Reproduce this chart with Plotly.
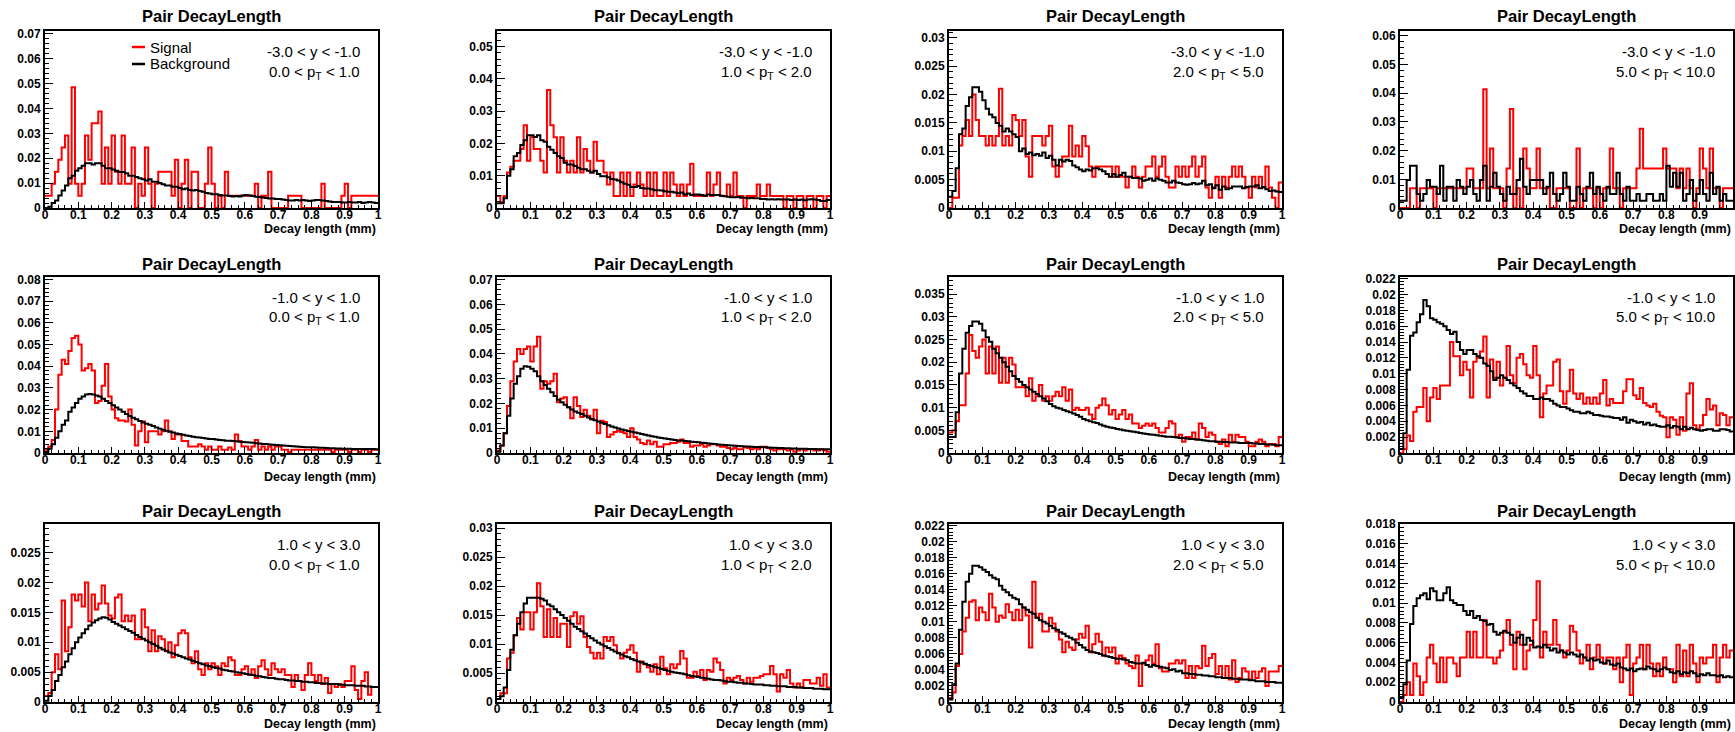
import plotly.graph_objects as go

W, H = 1735, 732

# ---------------- data ----------------
bin_edges = [i / 100 for i in range(101)]

rap_labels = ["-3.0 &lt; y &lt; -1.0", "-1.0 &lt; y &lt; 1.0", "1.0 &lt; y &lt; 3.0"]
pt_labels = ["0.0 &lt; p<sub>T</sub> &lt; 1.0", "1.0 &lt; p<sub>T</sub> &lt; 2.0",
             "2.0 &lt; p<sub>T</sub> &lt; 5.0", "5.0 &lt; p<sub>T</sub> &lt; 10.0"]
panel_title = "Pair DecayLength"
x_title = "Decay length (mm)"
legend_names = ["Signal", "Background"]

y_top = [0.0711, 0.0548, 0.0312, 0.0617,
         0.0811, 0.0711, 0.0388, 0.0222,
         0.0298, 0.0307, 0.0222, 0.0180]
y_major = [0.01, 0.01, 0.005, 0.01,
           0.01, 0.01, 0.005, 0.002,
           0.005, 0.005, 0.002, 0.002]

sig_1 = [0.0049,0.0049,0.0097,0.0146,0.0194,0.0243,0.0291,0.0097,0.0485,0.0097,
         0.0049,0.0097,0.0291,0.0194,0.034,0.034,0.0388,0.0097,0.0243,0.0097,
         0.0291,0.0146,0.0097,0.0291,0.0097,0.0097,0.0243,0.0,0.0097,0.0049,
         0.0243,0.0097,0.0,0.0097,0.0146,0.0146,0.0146,0.0146,0.0049,0.0194,
         0.0,0.0097,0.0194,0.0,0.0146,0.0146,0.0,0.0,0.0097,0.0243,
         0.0097,0.0,0.0049,0.0,0.0146,0.0049,0.0049,0.0049,0.0049,0.0049,
         0.0049,0.0049,0.0049,0.0097,0.0,0.0049,0.0049,0.0146,0.0,0.0,
         0.0,0.0,0.0,0.0049,0.0049,0.0049,0.0049,0.0,0.0,0.0,
         0.0,0.0,0.0,0.0097,0.0,0.0,0.0,0.0,0.0,0.0049,
         0.0097,0.0,0.0049,0.0049,0.0049,0.0049,0.0049,0.0049,0.0049,0.0049]
bkg_1 = [0.0,0.0005,0.002,0.003,0.005,0.007,0.009,0.012,0.013,0.015,
         0.016,0.017,0.018,0.018,0.0175,0.018,0.018,0.017,0.016,0.016,
         0.0155,0.015,0.0145,0.0145,0.014,0.013,0.013,0.0125,0.012,0.0115,
         0.011,0.0115,0.0105,0.0105,0.01,0.0095,0.009,0.009,0.0085,0.0085,
         0.008,0.0075,0.0078,0.0072,0.007,0.0072,0.0068,0.0065,0.006,0.0058,
         0.0055,0.0055,0.0052,0.005,0.005,0.0048,0.0046,0.0048,0.0046,0.005,
         0.0052,0.005,0.0048,0.0045,0.0044,0.0042,0.004,0.0038,0.0038,0.0036,
         0.0036,0.0034,0.0032,0.003,0.003,0.0032,0.003,0.0032,0.003,0.0028,
         0.003,0.0032,0.0032,0.003,0.0028,0.0026,0.0024,0.0024,0.0024,0.0022,
         0.0022,0.0024,0.0022,0.0022,0.0024,0.002,0.0022,0.0024,0.0022,0.002]

sig_2 = [0.0037,0.0018,0.0037,0.011,0.0128,0.0146,0.0146,0.0183,0.0256,0.0146,
         0.0219,0.0183,0.0183,0.0146,0.011,0.0365,0.0256,0.0219,0.011,0.0219,
         0.0146,0.011,0.0146,0.011,0.0219,0.011,0.0183,0.0146,0.011,0.0205,
         0.0146,0.0146,0.011,0.0073,0.011,0.0037,0.0037,0.011,0.0037,0.011,
         0.0037,0.0073,0.011,0.0073,0.0037,0.011,0.0037,0.011,0.0037,0.0037,
         0.011,0.0037,0.011,0.0073,0.0037,0.0073,0.0037,0.0073,0.0137,0.0037,
         0.0037,0.0037,0.0037,0.011,0.0037,0.0073,0.011,0.0037,0.0037,0.0073,
         0.0037,0.011,0.0037,0.0037,0.0,0.0037,0.0037,0.0037,0.0073,0.0037,
         0.0037,0.0073,0.0037,0.0037,0.0037,0.0037,0.0,0.0037,0.0037,0.0,
         0.0037,0.0037,0.0,0.0037,0.0037,0.0,0.0037,0.0037,0.0,0.0037]
bkg_2 = [0.0015,0.0015,0.003,0.01,0.012,0.016,0.017,0.0195,0.021,0.0225,
         0.0225,0.022,0.0225,0.021,0.0205,0.019,0.018,0.017,0.016,0.0155,
         0.014,0.0135,0.0135,0.013,0.0125,0.012,0.012,0.0115,0.011,0.0115,
         0.0105,0.0098,0.0098,0.0095,0.009,0.0088,0.0085,0.008,0.0075,0.0072,
         0.0065,0.0065,0.0068,0.0062,0.006,0.006,0.0058,0.0055,0.0055,0.0054,
         0.0052,0.005,0.005,0.0048,0.0046,0.0048,0.0042,0.0045,0.004,0.0042,
         0.0042,0.004,0.0038,0.0042,0.004,0.004,0.004,0.0038,0.0036,0.0035,
         0.0033,0.0033,0.0034,0.0032,0.0032,0.003,0.0031,0.003,0.003,0.0028,
         0.0028,0.0026,0.0027,0.0026,0.0027,0.0026,0.0026,0.0026,0.0025,0.0026,
         0.0025,0.0026,0.0024,0.0026,0.0027,0.0026,0.0025,0.0022,0.0022,0.0025]

sig_3 = [0.0,0.0018,0.0018,0.011,0.0127,0.0155,0.0127,0.02,0.0155,0.0127,
         0.0127,0.011,0.0127,0.011,0.0127,0.021,0.011,0.0127,0.011,0.0164,
         0.0155,0.0127,0.0155,0.0091,0.0055,0.0127,0.0127,0.0127,0.011,0.0127,
         0.0145,0.0073,0.0055,0.0073,0.0091,0.0091,0.0145,0.0091,0.011,0.0091,
         0.0127,0.0109,0.0073,0.0055,0.0073,0.0073,0.0073,0.0073,0.0073,0.0055,
         0.0073,0.0055,0.0055,0.0036,0.0055,0.0073,0.0055,0.0036,0.0055,0.0073,
         0.0073,0.0091,0.0055,0.0073,0.0091,0.0055,0.0036,0.0036,0.0073,0.0055,
         0.0073,0.0055,0.0073,0.0091,0.0055,0.0073,0.0091,0.0036,0.0018,0.0036,
         0.0055,0.0018,0.0055,0.0036,0.0055,0.0073,0.0055,0.0073,0.0055,0.0036,
         0.0018,0.0055,0.0036,0.0055,0.0036,0.0073,0.0036,0.0018,0.0,0.0045]
bkg_3 = [0.002,0.003,0.007,0.013,0.014,0.018,0.0195,0.0213,0.0213,0.0205,
         0.019,0.0175,0.0165,0.016,0.015,0.0145,0.0135,0.014,0.0135,0.013,
         0.0125,0.01,0.0105,0.0095,0.0098,0.0093,0.0095,0.0092,0.0098,0.0088,
         0.0092,0.0085,0.0075,0.0085,0.0082,0.0085,0.0083,0.0075,0.0072,0.0068,
         0.0065,0.0068,0.0066,0.007,0.007,0.0068,0.0065,0.006,0.0055,0.006,
         0.0055,0.0058,0.0062,0.0055,0.0055,0.0053,0.0053,0.0052,0.0048,0.005,
         0.0052,0.0048,0.0052,0.005,0.0048,0.0045,0.0045,0.0048,0.0045,0.0044,
         0.0042,0.0041,0.0042,0.0044,0.0042,0.0043,0.0048,0.004,0.0042,0.0035,
         0.004,0.0032,0.0038,0.0033,0.0035,0.0038,0.0038,0.0038,0.0035,0.0037,
         0.0038,0.0038,0.004,0.0035,0.0037,0.0033,0.003,0.0031,0.0029,0.0028]

sig_4 = [0.0,0.0,0.0,0.0069,0.0069,0.0,0.0069,0.0069,0.0069,0.0069,
         0.0,0.0069,0.0069,0.0069,0.0069,0.0069,0.0069,0.0069,0.0069,0.0069,
         0.0138,0.0138,0.0069,0.0069,0.0069,0.0414,0.0069,0.0207,0.0069,0.0069,
         0.0069,0.0,0.0138,0.0345,0.0,0.0069,0.0,0.0207,0.0138,0.0069,
         0.0069,0.0207,0.0069,0.0069,0.0069,0.0,0.0,0.0069,0.0069,0.0069,
         0.0069,0.0,0.0,0.0207,0.0,0.0069,0.0069,0.0069,0.0,0.0069,
         0.0,0.0069,0.0069,0.0207,0.0069,0.0069,0.0,0.0069,0.0069,0.0069,
         0.0069,0.0138,0.0276,0.0138,0.0138,0.0138,0.0138,0.0138,0.0138,0.0207,
         0.0138,0.0138,0.0138,0.0069,0.0138,0.0069,0.0138,0.0069,0.0,0.0069,
         0.0207,0.0138,0.0069,0.0207,0.0069,0.0069,0.0,0.0069,0.0069,0.0069]
bkg_4 = [0.0025,0.0025,0.0098,0.0147,0.0147,0.0049,0.0025,0.0049,0.0098,0.0074,
         0.0074,0.0049,0.0147,0.0025,0.0074,0.0074,0.0025,0.0098,0.0074,0.0049,
         0.0074,0.0098,0.0049,0.0025,0.0098,0.0147,0.0025,0.0074,0.0123,0.0074,
         0.0049,0.0025,0.0074,0.0049,0.0049,0.0098,0.0172,0.0074,0.0049,0.0098,
         0.0098,0.0098,0.0098,0.0049,0.0074,0.0123,0.0049,0.0025,0.0049,0.0123,
         0.0074,0.0025,0.0025,0.0074,0.0049,0.0025,0.0074,0.0123,0.0049,0.0074,
         0.0049,0.0025,0.0074,0.0049,0.0049,0.0123,0.0049,0.0025,0.0074,0.0025,
         0.0025,0.0049,0.0025,0.0025,0.0049,0.0049,0.0025,0.0025,0.0049,0.0025,
         0.0147,0.0074,0.0123,0.0074,0.0123,0.0025,0.0049,0.0098,0.0025,0.0049,
         0.0098,0.0049,0.0025,0.0123,0.0049,0.0074,0.0025,0.0049,0.0025,0.0025]

sig_5 = [0.0015,0.003,0.006,0.02,0.036,0.043,0.041,0.047,0.053,0.054,
         0.05,0.038,0.039,0.041,0.038,0.023,0.024,0.031,0.041,0.026,
         0.02,0.016,0.015,0.015,0.0145,0.02,0.013,0.0035,0.01,0.0145,
         0.005,0.01,0.01,0.01,0.0085,0.01,0.015,0.01,0.0065,0.0085,
         0.0085,0.0055,0.0055,0.003,0.003,0.003,0.004,0.003,0.0015,0.003,
         0.0015,0.0015,0.003,0.0015,0.0015,0.0025,0.0015,0.0085,0.0055,0.003,
         0.003,0.0015,0.003,0.006,0.0015,0.003,0.0015,0.003,0.0015,0.003,
         0.003,0.0015,0.0015,0.0005,0.0015,0.0015,0.0015,0.0015,0.0015,0.0015,
         0.0015,0.0015,0.0015,0.0015,0.0015,0.0015,0.0005,0.0015,0.0015,0.0015,
         0.0015,0.0005,0.0015,0.0015,0.0005,0.0015,0.0015,0.0005,0.0015,0.0015]
bkg_5 = [0.0005,0.002,0.004,0.007,0.01,0.013,0.015,0.019,0.021,0.023,
         0.025,0.026,0.027,0.0272,0.027,0.0265,0.026,0.025,0.024,0.023,
         0.022,0.021,0.02,0.019,0.018,0.017,0.0162,0.0155,0.0147,0.014,
         0.0135,0.013,0.0124,0.0118,0.0112,0.0107,0.0102,0.0098,0.0094,0.009,
         0.0087,0.0084,0.0081,0.0078,0.0075,0.0073,0.0071,0.0069,0.0067,0.0065,
         0.0064,0.0062,0.006,0.0059,0.0057,0.0056,0.0055,0.0054,0.0052,0.0051,
         0.005,0.0048,0.0047,0.0045,0.0044,0.0042,0.0041,0.0039,0.0038,0.0037,
         0.0036,0.0034,0.0033,0.0032,0.0031,0.003,0.0029,0.0028,0.0027,0.0027,
         0.0026,0.0025,0.0024,0.0024,0.0023,0.0022,0.0022,0.0021,0.0021,0.002,
         0.002,0.002,0.0019,0.0019,0.0019,0.0018,0.0018,0.0018,0.0018,0.0017]

sig_6 = [0.001,0.003,0.008,0.019,0.029,0.037,0.042,0.04,0.042,0.043,
         0.037,0.043,0.047,0.026,0.029,0.028,0.029,0.032,0.0205,0.022,
         0.0225,0.0185,0.014,0.0225,0.019,0.0145,0.0175,0.015,0.0135,0.0175,
         0.008,0.013,0.0125,0.0065,0.0075,0.0085,0.009,0.0085,0.008,0.0065,
         0.01,0.0065,0.0055,0.004,0.0035,0.005,0.0035,0.0045,0.0025,0.0025,
         0.0035,0.0035,0.004,0.004,0.0045,0.0055,0.004,0.004,0.0025,0.003,
         0.003,0.0035,0.0025,0.003,0.0035,0.0035,0.003,0.0025,0.0025,0.002,
         0.0015,0.002,0.0015,0.0015,0.0025,0.002,0.0015,0.002,0.0015,0.0025,
         0.0025,0.002,0.0015,0.001,0.0015,0.0015,0.0015,0.001,0.0015,0.0005,
         0.001,0.0015,0.001,0.0015,0.0015,0.001,0.001,0.0015,0.001,0.0005]
bkg_6 = [0.0005,0.003,0.008,0.015,0.022,0.028,0.031,0.034,0.035,0.0348,
         0.034,0.033,0.031,0.029,0.0275,0.026,0.0245,0.023,0.0215,0.0205,
         0.0195,0.0185,0.0176,0.0168,0.0163,0.0158,0.015,0.0143,0.0137,0.0132,
         0.0127,0.0122,0.0117,0.0112,0.0107,0.0103,0.0099,0.0095,0.0092,0.0089,
         0.0086,0.0083,0.008,0.0077,0.0074,0.0071,0.0068,0.0066,0.0063,0.0061,
         0.0059,0.0057,0.0055,0.0053,0.0051,0.005,0.0048,0.0047,0.0045,0.0044,
         0.0043,0.0041,0.004,0.0038,0.0037,0.0036,0.0034,0.0033,0.0032,0.0031,
         0.003,0.0029,0.0028,0.0027,0.0026,0.0026,0.0025,0.0024,0.0024,0.0023,
         0.0023,0.0022,0.0021,0.0021,0.002,0.002,0.0019,0.0019,0.0018,0.0018,
         0.0017,0.0017,0.0017,0.0016,0.0016,0.0016,0.0015,0.0015,0.0015,0.0015]

sig_7 = [0.0045,0.005,0.007,0.0105,0.0105,0.0175,0.026,0.0225,0.021,0.0235,
         0.025,0.0175,0.0235,0.0175,0.0235,0.0155,0.021,0.0155,0.021,0.0195,
         0.0145,0.0145,0.0145,0.0125,0.0165,0.0115,0.0125,0.015,0.0115,0.0125,
         0.0115,0.0125,0.0135,0.0125,0.0145,0.0115,0.014,0.0095,0.01,0.0095,
         0.0095,0.01,0.0085,0.0075,0.01,0.0105,0.012,0.0105,0.0085,0.0095,
         0.0075,0.0085,0.0095,0.0075,0.0085,0.0065,0.0065,0.0055,0.006,0.0065,
         0.006,0.0065,0.0055,0.0045,0.0045,0.0055,0.007,0.0065,0.0035,0.004,
         0.0025,0.0035,0.0035,0.0045,0.003,0.0065,0.0055,0.0035,0.0045,0.004,
         0.0025,0.002,0.003,0.0015,0.004,0.0025,0.004,0.0035,0.0035,0.0025,
         0.0015,0.0015,0.0025,0.003,0.0025,0.0015,0.002,0.002,0.0015,0.0035]
bkg_7 = [0.0035,0.0035,0.009,0.0175,0.023,0.0265,0.028,0.029,0.029,0.0285,
         0.027,0.0255,0.0245,0.023,0.022,0.021,0.02,0.019,0.018,0.017,
         0.0163,0.0157,0.015,0.0145,0.014,0.0135,0.013,0.0125,0.012,0.0114,
         0.0108,0.0103,0.01,0.0098,0.0095,0.0092,0.009,0.0087,0.0084,0.008,
         0.0075,0.0072,0.007,0.0068,0.0066,0.0063,0.006,0.0058,0.0056,0.0055,
         0.0053,0.0052,0.005,0.0049,0.0048,0.0047,0.0046,0.0044,0.0043,0.0042,
         0.0041,0.004,0.0039,0.0038,0.0037,0.0036,0.0036,0.0035,0.0034,0.0033,
         0.0033,0.0032,0.0031,0.0031,0.003,0.0029,0.0028,0.0027,0.0026,0.0026,
         0.0025,0.0025,0.0024,0.0024,0.0023,0.0023,0.0023,0.0022,0.0022,0.0022,
         0.0022,0.0021,0.0021,0.002,0.002,0.0019,0.0019,0.0018,0.0017,0.0017]

sig_8 = [0.0,0.0005,0.0022,0.0015,0.0052,0.0058,0.0058,0.0082,0.004,0.007,
         0.0082,0.0068,0.0085,0.0085,0.0085,0.014,0.0122,0.0122,0.0098,0.0115,
         0.0105,0.007,0.0115,0.012,0.0128,0.0147,0.007,0.0118,0.0095,0.0115,
         0.0085,0.0095,0.0135,0.0098,0.0088,0.012,0.0125,0.0112,0.0098,0.0095,
         0.0135,0.0098,0.0045,0.0075,0.0085,0.0085,0.0115,0.0118,0.0078,0.0062,
         0.0078,0.0105,0.0075,0.0068,0.0075,0.0062,0.007,0.0062,0.007,0.0062,
         0.0075,0.0092,0.006,0.0068,0.0063,0.0063,0.0063,0.0078,0.0093,0.0093,
         0.0073,0.0068,0.0082,0.0063,0.006,0.0058,0.0062,0.0052,0.0047,0.0045,
         0.002,0.0045,0.0042,0.0023,0.0045,0.0028,0.0075,0.0088,0.0035,0.003,
         0.0035,0.0048,0.0068,0.0055,0.006,0.0035,0.005,0.0048,0.0035,0.0045]
bkg_8 = [0.0005,0.0025,0.0105,0.0148,0.0152,0.0165,0.0175,0.0193,0.0185,0.017,
         0.0168,0.0165,0.0163,0.016,0.0155,0.015,0.0153,0.014,0.013,0.0125,
         0.013,0.013,0.0125,0.0122,0.012,0.0113,0.011,0.0103,0.0092,0.0095,
         0.0098,0.0095,0.0092,0.0088,0.0085,0.0082,0.0078,0.0075,0.0072,0.0072,
         0.0068,0.0068,0.007,0.0068,0.0068,0.0066,0.0062,0.006,0.0058,0.0058,
         0.0056,0.0054,0.0052,0.0052,0.005,0.005,0.0052,0.005,0.0048,0.0048,
         0.0047,0.0046,0.0046,0.0045,0.0044,0.0044,0.0042,0.0045,0.0038,0.0042,
         0.004,0.0038,0.0039,0.0036,0.0038,0.0035,0.0036,0.0034,0.0033,0.0033,
         0.0035,0.0032,0.0034,0.0033,0.003,0.0033,0.003,0.0032,0.003,0.0029,
         0.0028,0.0029,0.003,0.003,0.0028,0.0028,0.003,0.003,0.0029,0.0027]

sig_9 = [0.001,0.0015,0.005,0.008,0.0055,0.017,0.0085,0.0125,0.018,0.017,
         0.018,0.016,0.02,0.0135,0.018,0.0155,0.0165,0.0195,0.0165,0.0145,
         0.014,0.0175,0.018,0.0135,0.0145,0.0135,0.0145,0.0105,0.0105,0.0155,
         0.0125,0.0085,0.012,0.0085,0.011,0.0105,0.0085,0.01,0.0075,0.0095,
         0.0115,0.012,0.0115,0.0075,0.0065,0.0085,0.0055,0.0045,0.0065,0.0055,
         0.0065,0.006,0.0045,0.0065,0.006,0.0075,0.007,0.0045,0.0045,0.0055,
         0.006,0.0045,0.0055,0.004,0.006,0.007,0.0055,0.0045,0.0065,0.0055,
         0.005,0.0055,0.0045,0.0045,0.0025,0.0045,0.0035,0.002,0.0045,0.0065,
         0.0045,0.0035,0.0045,0.003,0.004,0.0015,0.003,0.0025,0.003,0.0025,
         0.0035,0.0035,0.006,0.002,0.0005,0.0035,0.005,0.0012,0.0025,0.0025]
bkg_9 = [0.0002,0.001,0.002,0.0035,0.0045,0.0058,0.0068,0.008,0.009,0.01,
         0.0108,0.0115,0.0122,0.0128,0.0133,0.0137,0.014,0.0142,0.0141,0.0138,
         0.0134,0.0131,0.0128,0.0125,0.0122,0.0119,0.0116,0.0112,0.0109,0.0106,
         0.0103,0.01,0.0097,0.0094,0.0091,0.0088,0.0086,0.0083,0.0081,0.0079,
         0.0077,0.0075,0.0073,0.0071,0.0069,0.0067,0.0065,0.0063,0.0061,0.006,
         0.0058,0.0057,0.0056,0.0054,0.0053,0.0052,0.0051,0.005,0.0049,0.0048,
         0.0047,0.0046,0.0045,0.0044,0.0043,0.0042,0.0041,0.004,0.004,0.0039,
         0.0038,0.0038,0.0037,0.0036,0.0036,0.0035,0.0035,0.0034,0.0034,0.0033,
         0.0033,0.0032,0.0032,0.0031,0.0031,0.003,0.003,0.003,0.0029,0.0029,
         0.0028,0.0028,0.0028,0.0027,0.0027,0.0027,0.0026,0.0026,0.0025,0.0025]

sig_10 = [0.0005,0.0015,0.0015,0.0075,0.0085,0.0115,0.0145,0.0125,0.0155,0.0155,
          0.0125,0.0155,0.0205,0.0165,0.0112,0.016,0.0112,0.0145,0.0112,0.0135,
          0.0135,0.0095,0.0148,0.0155,0.0135,0.0148,0.0112,0.0095,0.0085,0.0075,
          0.0085,0.0075,0.0112,0.0105,0.0112,0.0098,0.0085,0.0075,0.0085,0.009,
          0.0098,0.0085,0.0052,0.007,0.0065,0.006,0.0052,0.0065,0.0048,0.0078,
          0.0058,0.0048,0.0065,0.0058,0.0065,0.0088,0.0075,0.0042,0.0042,0.0052,
          0.0045,0.0055,0.0038,0.0055,0.0052,0.0075,0.0068,0.0055,0.0032,0.0042,
          0.0038,0.0042,0.0045,0.0038,0.0032,0.0042,0.0035,0.0042,0.0042,0.0045,
          0.0048,0.0048,0.0062,0.0048,0.0018,0.0048,0.0042,0.0055,0.0032,0.0025,
          0.0032,0.0025,0.0038,0.0038,0.0032,0.0032,0.0042,0.0028,0.0048,0.0025]
bkg_10 = [0.0005,0.001,0.0025,0.0055,0.009,0.0115,0.0135,0.0155,0.017,0.018,
          0.018,0.018,0.018,0.0178,0.0175,0.0168,0.0165,0.016,0.0155,0.015,
          0.0145,0.014,0.0135,0.013,0.0126,0.0122,0.0118,0.0114,0.011,0.0106,
          0.0102,0.0099,0.0096,0.0093,0.009,0.0087,0.0084,0.0082,0.0079,0.0077,
          0.0074,0.0072,0.007,0.0068,0.0066,0.0064,0.0062,0.006,0.0059,0.0057,
          0.0055,0.0054,0.0052,0.0051,0.005,0.0049,0.0048,0.0046,0.0045,0.0044,
          0.0043,0.0042,0.0041,0.004,0.0039,0.0038,0.0038,0.0037,0.0036,0.0035,
          0.0035,0.0034,0.0033,0.0033,0.0032,0.0032,0.0031,0.003,0.003,0.003,
          0.0029,0.0029,0.0028,0.0028,0.0027,0.0027,0.0027,0.0026,0.0026,0.0026,
          0.0025,0.0025,0.0024,0.0024,0.0024,0.0023,0.0023,0.0023,0.0022,0.0022]

sig_11 = [0.0005,0.0012,0.0045,0.006,0.0088,0.0105,0.0125,0.0127,0.0102,0.0118,
          0.0112,0.0102,0.0135,0.0118,0.01,0.0108,0.0105,0.0122,0.0112,0.0102,
          0.0115,0.0102,0.0118,0.0108,0.0068,0.015,0.0105,0.011,0.0088,0.0088,
          0.0105,0.0098,0.0088,0.0078,0.0062,0.0075,0.0068,0.0065,0.0078,0.0085,
          0.008,0.0095,0.0062,0.0072,0.0085,0.0075,0.0058,0.0068,0.0062,0.0068,
          0.0048,0.0058,0.0055,0.0048,0.0045,0.0042,0.0058,0.002,0.0048,0.0052,
          0.0058,0.0048,0.0072,0.0042,0.0038,0.0038,0.0048,0.0048,0.0052,0.0048,
          0.0052,0.003,0.0045,0.003,0.0045,0.0042,0.007,0.0045,0.0055,0.006,
          0.0035,0.0045,0.003,0.0045,0.0028,0.0052,0.0025,0.003,0.0042,0.0038,
          0.0028,0.0038,0.003,0.0038,0.0042,0.002,0.0038,0.0038,0.0038,0.0045]
bkg_11 = [0.0003,0.0022,0.0048,0.009,0.0125,0.015,0.016,0.017,0.017,0.0168,
          0.0165,0.0162,0.0158,0.0155,0.0153,0.0145,0.014,0.0137,0.0133,0.013,
          0.0128,0.0122,0.0118,0.0115,0.0112,0.011,0.0105,0.0102,0.01,0.0098,
          0.0095,0.0092,0.009,0.0087,0.0085,0.0082,0.008,0.0078,0.0074,0.0071,
          0.0068,0.0065,0.0063,0.0062,0.0061,0.006,0.0058,0.0057,0.0056,0.0055,
          0.0054,0.0054,0.0053,0.0052,0.005,0.0049,0.0048,0.0048,0.0049,0.0046,
          0.0044,0.0046,0.0045,0.0044,0.0043,0.0042,0.004,0.0041,0.0038,0.0039,
          0.0036,0.0036,0.0035,0.0035,0.0034,0.0034,0.0033,0.0033,0.0032,0.0032,
          0.0031,0.0031,0.003,0.003,0.003,0.0029,0.0029,0.0028,0.0028,0.0028,
          0.0027,0.0027,0.0026,0.0026,0.0026,0.0025,0.0025,0.0025,0.0024,0.0024]

sig_12 = [0.0,0.0007,0.002,0.0007,0.0039,0.0026,0.0007,0.002,0.0045,0.0058,
          0.0039,0.002,0.0045,0.002,0.0045,0.0045,0.0039,0.0026,0.0045,0.0045,
          0.0071,0.0045,0.0071,0.0045,0.0045,0.0083,0.0045,0.0045,0.0039,0.0045,
          0.0052,0.0071,0.0083,0.0058,0.0033,0.0071,0.0058,0.0033,0.0052,0.0058,
          0.0083,0.0122,0.0045,0.0071,0.0058,0.0058,0.0083,0.0058,0.0052,0.0045,
          0.0052,0.0077,0.0071,0.0052,0.0039,0.0045,0.0058,0.0033,0.0045,0.0058,
          0.0045,0.0039,0.0045,0.0045,0.0033,0.0045,0.002,0.0045,0.0058,0.0007,
          0.0039,0.0045,0.0058,0.0033,0.0058,0.0039,0.0026,0.0039,0.0026,0.0045,
          0.0033,0.0033,0.002,0.0058,0.0026,0.0052,0.0026,0.0058,0.0039,0.002,
          0.0045,0.0039,0.0045,0.0045,0.0058,0.002,0.0045,0.0058,0.0045,0.0052]
bkg_12 = [0.0005,0.0018,0.0042,0.0079,0.0097,0.0105,0.0108,0.011,0.0104,0.0115,
          0.0112,0.0103,0.0103,0.011,0.0116,0.0103,0.01,0.0098,0.0098,0.0092,
          0.0088,0.0092,0.0085,0.0087,0.0083,0.0082,0.0078,0.0079,0.0071,0.0068,
          0.007,0.0072,0.007,0.0068,0.006,0.0065,0.0068,0.0058,0.0065,0.0062,
          0.0055,0.0056,0.0055,0.0058,0.0055,0.0052,0.0054,0.005,0.0052,0.005,
          0.0048,0.005,0.0048,0.0046,0.0048,0.0045,0.0042,0.0044,0.0042,0.0043,
          0.004,0.0039,0.0042,0.0038,0.0037,0.0039,0.0035,0.0034,0.0032,0.0034,
          0.0031,0.0033,0.0034,0.0033,0.0036,0.0034,0.0033,0.0031,0.0033,0.0035,
          0.0033,0.003,0.0029,0.0031,0.0028,0.003,0.0029,0.0031,0.0029,0.0026,
          0.0028,0.0027,0.0029,0.0027,0.0027,0.0026,0.0027,0.0025,0.0026,0.0025]

signal = [sig_1, sig_2, sig_3, sig_4, sig_5, sig_6, sig_7, sig_8, sig_9, sig_10, sig_11, sig_12]
background = [bkg_1, bkg_2, bkg_3, bkg_4, bkg_5, bkg_6, bkg_7, bkg_8, bkg_9, bkg_10, bkg_11, bkg_12]

# ---------------- layout (pixels) ----------------
FRAME_LEFT = [45, 497, 949, 1400]
FRAME_W = 333
ROW_TOP = [31, 277, 524]
ROW_BOTTOM = [208, 453, 702]
TITLE_Y = [16, 264, 511]
XTITLE_Y = [229, 477, 724]

RED = "#ff0000"
FONT = "Liberation Sans"


def px(xp):
    return xp / W


def py(yp):
    return 1 - yp / H


fig = go.Figure()
layout = dict(
    width=W, height=H, margin=dict(l=0, r=0, t=0, b=0),
    paper_bgcolor="white", plot_bgcolor="white", showlegend=False,
)
annotations = []
shapes = []

tickfont = dict(family=FONT, size=12, color="black", weight="bold")
common = dict(showline=True, linecolor="black", linewidth=2, mirror=True,
              ticks="inside", tickcolor="black", tickwidth=1, showgrid=False,
              zeroline=False, tickfont=tickfont, tickformat="~g", automargin=False,
              fixedrange=True)

for r in range(3):
    for c in range(4):
        k = r * 4 + c
        n = k + 1
        xa = "x" if n == 1 else f"x{n}"
        ya = "y" if n == 1 else f"y{n}"
        xkey = "xaxis" if n == 1 else f"xaxis{n}"
        ykey = "yaxis" if n == 1 else f"yaxis{n}"
        left = FRAME_LEFT[c]
        right = FRAME_LEFT[c] + FRAME_W
        top = ROW_TOP[r]
        bottom = ROW_BOTTOM[r]

        s = signal[k]
        b = background[k]
        fig.add_trace(go.Scatter(x=bin_edges, y=s + [s[-1]], mode="lines",
                                 line=dict(color=RED, width=2, shape="hv"),
                                 xaxis=xa, yaxis=ya, hoverinfo="skip"))
        fig.add_trace(go.Scatter(x=bin_edges, y=b + [b[-1]], mode="lines",
                                 line=dict(color="black", width=2, shape="hv"),
                                 xaxis=xa, yaxis=ya, hoverinfo="skip"))

        layout[xkey] = dict(domain=[px(left), px(right)], anchor=ya, range=[0, 1],
                            tick0=0, dtick=0.1, ticklen=6, ticklabelstandoff=-5,
                            minor=dict(dtick=0.02, ticks="inside", ticklen=3,
                                       tickcolor="black", showgrid=False),
                            **common)
        layout[ykey] = dict(domain=[py(bottom), py(top)], anchor=xa,
                            range=[0, y_top[k]], tick0=0, dtick=y_major[k], ticklen=8,
                            minor=dict(dtick=y_major[k] / 5, ticks="inside", ticklen=4,
                                       tickcolor="black", showgrid=False),
                            **common)

        annotations.append(dict(text=panel_title, x=px((left + right) / 2), y=py(TITLE_Y[r]),
                                xref="paper", yref="paper", xanchor="center", yanchor="middle",
                                showarrow=False,
                                font=dict(family=FONT, size=16.5, color="black", weight="bold")))
        annotations.append(dict(text=x_title, x=px(right), y=py(XTITLE_Y[r]),
                                xref="paper", yref="paper", xanchor="right", yanchor="middle",
                                showarrow=False,
                                font=dict(family=FONT, size=12.5, color="black", weight="bold")))
        annotations.append(dict(text=rap_labels[r], x=px(right - 16), y=py(top + 20),
                                xref="paper", yref="paper", xanchor="right", yanchor="middle",
                                showarrow=False, font=dict(family=FONT, size=15, color="black")))
        annotations.append(dict(text=pt_labels[c], x=px(right - 16), y=py(top + 41),
                                xref="paper", yref="paper", xanchor="right", yanchor="middle",
                                showarrow=False, font=dict(family=FONT, size=15, color="black")))

# legend in first panel
for name, col, yy in [(legend_names[0], RED, 47), (legend_names[1], "black", 64)]:
    shapes.append(dict(type="line", xref="paper", yref="paper",
                       x0=px(132), x1=px(145), y0=py(yy), y1=py(yy),
                       line=dict(color=col, width=2.5)))
    annotations.append(dict(text=name, x=px(148), y=py(yy), xref="paper", yref="paper",
                            xanchor="left", yanchor="middle", showarrow=False,
                            font=dict(family=FONT, size=15, color="black")))

layout["annotations"] = annotations
layout["shapes"] = shapes
fig.update_layout(**layout)
fig.write_html("out.html")
